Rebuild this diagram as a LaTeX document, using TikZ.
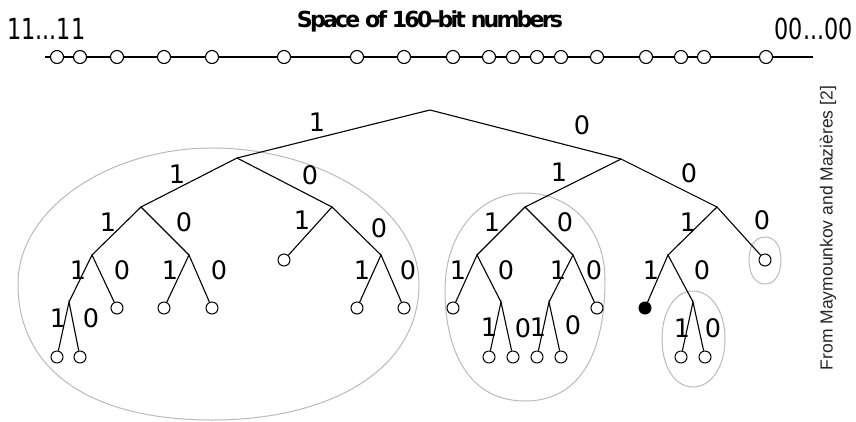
\documentclass[tikz,border=0pt]{standalone}
\usepackage{fontspec}
\setmainfont{DejaVu Sans}
\newfontfamily\arialfont{Liberation Sans}
\newfontfamily\titlefont[LetterSpace=-13]{DejaVu Sans Bold}
\begin{document}
\begin{tikzpicture}[x=1bp,y=-1bp,
  edge/.style={line width=1.1bp},
  leaf/.style={circle,draw,line width=1bp,fill=white,minimum size=12bp,inner sep=0},
  blk/.style={leaf,fill=black},
  bit/.style={font=\fontsize{25.5bp}{30bp}\selectfont,inner sep=0},
  blob/.style={draw=black!27,line width=1bp},
  dot/.style={circle,draw,line width=1.1bp,fill=white,minimum size=13bp,inner sep=0}
]
\useasboundingbox (0,0) rectangle (856,421);
% blobs
\draw[blob] (18,284) .. controls (18,208) and (110,148) .. (212,148)
  .. controls (320,148) and (419,208) .. (419,284)
  .. controls (419,370) and (330,420) .. (212,420)
  .. controls (90,420) and (18,370) .. (18,284);
\draw[blob] (445,290) .. controls (445,235) and (478,193) .. (525,193)
  .. controls (572,193) and (605,230) .. (605,280)
  .. controls (605,350) and (582,401) .. (525,401)
  .. controls (468,401) and (445,350) .. (445,290);
\draw[blob] (749,260) .. controls (749,246) and (755,237) .. (765,237)
  .. controls (775,237) and (781,246) .. (781,260)
  .. controls (781,274) and (775,284) .. (765,284)
  .. controls (755,284) and (749,274) .. (749,260);
\draw[blob] (662,339) .. controls (662,311) and (675,291) .. (693,291)
  .. controls (711,291) and (725,311) .. (725,339)
  .. controls (725,367) and (711,387) .. (693,387)
  .. controls (675,387) and (662,367) .. (662,339);
% top line
\coordinate (ls) at (45,57); \coordinate (le) at (813,57);
\draw[line width=2bp] (ls) -- (le);
\foreach \x [count=\i] in {57,80,117,164,212,284,357,404,453,489,513,537,561,597,646,681,704,766}
  \node[dot] (p\i) at (\x,57) {};
% texts
\node[anchor=base,inner sep=0] (title) at (430,27)
  {\resizebox{266bp}{!}{\fontsize{23bp}{28bp}\titlefont Space of 160–bit numbers}};
\node[anchor=base west,inner sep=0] (ones) at (7,39) {\scalebox{0.77}[1]{\fontsize{29bp}{34bp}\selectfont 11...11}};
\node[anchor=base east,inner sep=0] (zeros) at (853,39) {\scalebox{0.77}[1]{\fontsize{29bp}{34bp}\selectfont 00...00}};
\node[rotate=90,inner sep=0,text=black!85] (src) at (828,228) {\arialfont\fontsize{17.5bp}{20bp}\selectfont From Maymounkov and Mazières [2]};
% internal nodes
\coordinate (r) at (430,110);
\coordinate (a) at (237,158); \coordinate (b) at (621,159);
\coordinate (aa) at (141,207); \coordinate (ab) at (332,207);
\coordinate (ba) at (525,207); \coordinate (bb) at (717,207);
\coordinate (aaa) at (92,255); \coordinate (aab) at (189,255); \coordinate (abb) at (381,255);
\coordinate (baa) at (477,255); \coordinate (bab) at (573,255); \coordinate (bba) at (668,255);
\coordinate (aaaa) at (69,302); \coordinate (baab) at (501,302);
\coordinate (baba) at (549,302); \coordinate (bbab) at (693,302);
% leaves
\node[leaf] (aba) at (284,260) {};
\node[leaf] (bbb) at (765,260) {};
\node[leaf] (aaab) at (117,308) {};
\node[leaf] (aaba) at (164,308) {};
\node[leaf] (aabb) at (212,308) {};
\node[leaf] (abba) at (357,308) {};
\node[leaf] (abbb) at (404,308) {};
\node[leaf] (baaa) at (453,308) {};
\node[leaf] (babb) at (597,308) {};
\node[blk] (bbaa) at (645,308) {};
\node[leaf] (aaaaa) at (57,357) {};
\node[leaf] (aaaab) at (80,357) {};
\node[leaf] (baaba) at (489,357) {};
\node[leaf] (baabb) at (513,357) {};
\node[leaf] (babaa) at (537,357) {};
\node[leaf] (babab) at (561,357) {};
\node[leaf] (bbaba) at (681,357) {};
\node[leaf] (bbabb) at (705,357) {};
% edges
\draw[edge] (a) -- (r) -- (b);
\draw[edge] (aa) -- (a) -- (ab);
\draw[edge] (ba) -- (b) -- (bb);
\draw[edge] (aaa) -- (aa) -- (aab);
\draw[edge] (aba) -- (ab) -- (abb);
\draw[edge] (baa) -- (ba) -- (bab);
\draw[edge] (bba) -- (bb) -- (bbb);
\draw[edge] (aaaa) -- (aaa) -- (aaab);
\draw[edge] (aaba) -- (aab) -- (aabb);
\draw[edge] (abba) -- (abb) -- (abbb);
\draw[edge] (baaa) -- (baa) -- (baab);
\draw[edge] (baba) -- (bab) -- (babb);
\draw[edge] (bbaa) -- (bba) -- (bbab);
\draw[edge] (aaaaa) -- (aaaa) -- (aaaab);
\draw[edge] (baaba) -- (baab) -- (baabb);
\draw[edge] (babaa) -- (baba) -- (babab);
\draw[edge] (bbaba) -- (bbab) -- (bbabb);
% bit labels
\foreach \x/\y/\t [count=\i] in {317/122/1,582/125/0,
  177/174/1,310/175/0,559/172/1,689/173/0,
  108/222/1,184/222/0,302/220/1,379/228/0,492/222/1,565/222/0,688/222/1,762/220/0,
  78/270/1,122/270/0,170/270/1,219/270/0,362/270/1,408/270/0,458/270/1,506/270/0,558/270/1,594/270/0,651/270/1,702/270/0,
  58/318/1,91/318/0,489/327/1,523/328/0,538/327/1,573/325/0,682/328/1,713/328/0}
  \node[bit] (l\i) at (\x,\y) {\t};
\end{tikzpicture}
\end{document}
